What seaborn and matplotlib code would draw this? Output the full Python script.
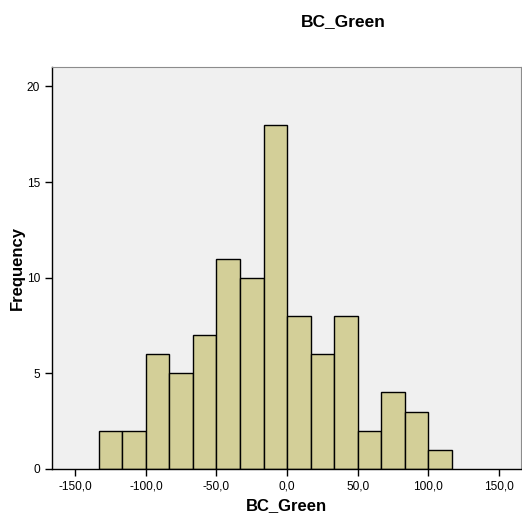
"""SPSS-style histogram of BC_Green."""

import matplotlib
matplotlib.use("Agg")
import matplotlib.pyplot as plt
import numpy as np
import seaborn as sns
from matplotlib.ticker import FuncFormatter

# bin midpoints and frequencies
bin_mids = [-125.0, -108.3, -91.7, -75.0, -58.3, -41.7, -25.0, -8.3,
            8.3, 25.0, 41.7, 58.3, 75.0, 91.7, 108.3]
counts = [2, 2, 6, 5, 7, 11, 10, 18, 8, 6, 8, 2, 4, 3, 1]
x_ticks = [-150, -100, -50, 0, 50, 100, 150]
y_ticks = [0, 5, 10, 15, 20]

BAR_COLOR = "#d3cf98"
BG_COLOR = "#f0f0f0"


def main():
    sns.set_style("white", {"text.color": "black", "axes.labelcolor": "black",
                            "xtick.color": "black", "ytick.color": "black"})
    plt.rcParams["font.family"] = ["Liberation Sans", "DejaVu Sans"]

    fig = plt.figure(figsize=(5.22, 5.23), dpi=100)
    ax = fig.add_axes([0.0996, 0.1033, 0.898, 0.769])
    ax.set_facecolor(BG_COLOR)

    sns.histplot(x=bin_mids, weights=counts, binwidth=250 / 15,
                 binrange=(-133.33, 116.67), color=BAR_COLOR, alpha=1,
                 edgecolor="black", linewidth=1.0, ax=ax)

    ax.set_xlim(-166.5, 165.5)
    ax.set_ylim(0, 21.03)
    ax.set_xticks(x_ticks)
    ax.set_yticks(y_ticks)
    ax.xaxis.set_major_formatter(FuncFormatter(lambda v, _: f"{v:.1f}".replace(".", ",")))
    ax.tick_params(axis="both", direction="out", length=5, width=1,
                   color="black", labelcolor="black", labelsize=8.6,
                   bottom=True, left=True)

    for side in ("left", "bottom"):
        ax.spines[side].set_color("black")
        ax.spines[side].set_linewidth(1)
    for side in ("top", "right"):
        ax.spines[side].set_color("#8c8c8c")
        ax.spines[side].set_linewidth(0.8)

    ax.set_xlabel("BC_Green", fontsize=12, fontweight="bold", labelpad=4,
                  color="black")
    ax.set_ylabel("Frequency", fontsize=12, fontweight="bold", labelpad=1.5,
                  color="black")
    fig.text(343 / 522, 1 - 22 / 523, "BC_Green", fontsize=12.5,
             fontweight="bold", ha="center", va="center", color="black")

    fig.savefig("out.png", dpi=100)
    plt.close(fig)


if __name__ == "__main__":
    main()
